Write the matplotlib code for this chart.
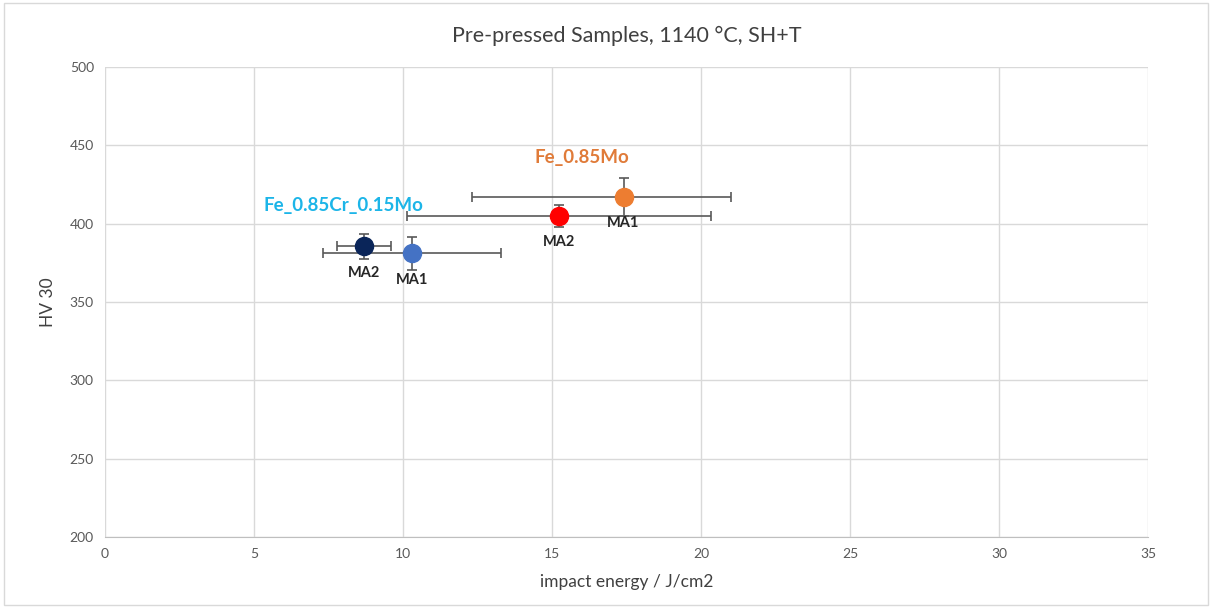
import matplotlib.pyplot as plt
from matplotlib.patches import Rectangle

# -----------------------------
# Data
# -----------------------------
labels = ["MA2", "MA1", "MA2", "MA1"]
energy = [8.7, 10.3, 15.25, 17.4]
energy_err_lo = [0.9, 3.0, 5.1, 5.1]
energy_err_hi = [0.9, 3.0, 5.1, 3.6]
hardness = [385.5, 381, 405, 417]
hardness_err = [7.8, 10.8, 7, 12]
colors = ["#0A2559", "#4472C4", "#FF0000", "#ED7D31"]

x_ticks = [0, 5, 10, 15, 20, 25, 30, 35]
y_ticks = [200, 250, 300, 350, 400, 450, 500]

plt.rcParams["font.family"] = ["Lato", "DejaVu Sans"]

fig = plt.figure(figsize=(12.12, 6.07), dpi=100)
ax = fig.add_axes([0.0866, 0.1153, 0.8606, 0.7743])

# chart-area border like the Excel frame
fig.patches.append(Rectangle((0.003, 0.003), 0.994, 0.992, transform=fig.transFigure,
                             fill=False, edgecolor="#d9d9d9", linewidth=1))

for i in range(len(energy)):
    ax.errorbar(energy[i], hardness[i], xerr=[[energy_err_lo[i]], [energy_err_hi[i]]],
                yerr=hardness_err[i], fmt="none", ecolor="#595959", elinewidth=1.2,
                capsize=3.5, capthick=1.2, zorder=2)
    ax.plot(energy[i], hardness[i], "o", color=colors[i], markersize=13, zorder=3)
    ax.annotate(labels[i], (energy[i], hardness[i]), xytext=(0, -14), textcoords="offset points",
                ha="center", va="top", fontsize=10.5, fontweight="bold", color="#262626", zorder=4)

ax.text(16.0, 442.5, "Fe_0.85Mo", color="#E07B39", fontsize=13.5, fontweight="bold", ha="center", va="center")
ax.text(8.0, 411.5, "Fe_0.85Cr_0.15Mo", color="#1CB5E8", fontsize=13.5, fontweight="bold", ha="center", va="center")

ax.set_xlim(0, 35)
ax.set_ylim(200, 500)
ax.set_xticks(x_ticks)
ax.set_yticks(y_ticks)
ax.grid(True, color="#d9d9d9", linewidth=1)
ax.set_axisbelow(True)
for s in ["top", "right", "left"]:
    ax.spines[s].set_visible(False)
ax.spines["bottom"].set_color("#bfbfbf")
ax.tick_params(length=0, labelsize=10, labelcolor="#595959", pad=8)

ax.set_title("Pre-pressed Samples, 1140 °C, SH+T", fontsize=15.5, color="#404040", pad=18)
ax.set_xlabel("impact energy / J/cm2", fontsize=12.5, color="#404040", labelpad=10)
ax.set_ylabel("HV 30", fontsize=12.5, color="#404040", labelpad=10)

plt.savefig("out.png", dpi=100)
